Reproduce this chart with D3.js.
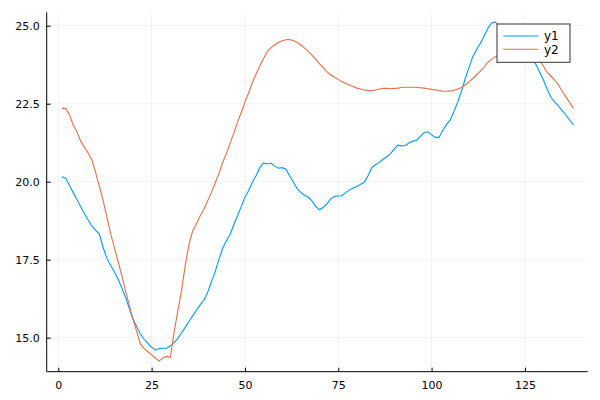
<!DOCTYPE html>
<html>
<head>
<meta charset="utf-8">
<script src="https://cdn.jsdelivr.net/npm/d3@7"></script>
<style>
  html, body { margin: 0; padding: 0; background: #fff; }
  svg { display: block; }
  text { font-family: "DejaVu Sans", sans-serif; }
</style>
</head>
<body>
<svg id="chart" width="600" height="400"></svg>
<script>
const seriesNames = ["y1", "y2"];
const y1 = [20.16,20.11,19.88,19.65,19.43,19.2,18.97,18.77,18.58,18.45,
  18.32,17.9,17.55,17.32,17.12,16.88,16.6,16.3,15.95,15.6,
  15.35,15.12,14.95,14.82,14.7,14.6,14.65,14.66,14.66,14.74,
  14.84,14.97,15.15,15.33,15.52,15.7,15.88,16.05,16.2,16.45,
  16.78,17.1,17.5,17.85,18.1,18.3,18.62,18.9,19.2,19.5,
  19.72,19.98,20.2,20.45,20.6,20.57,20.6,20.5,20.43,20.45,
  20.4,20.18,19.98,19.78,19.65,19.56,19.5,19.38,19.2,19.1,
  19.18,19.3,19.45,19.53,19.54,19.55,19.65,19.73,19.8,19.85,
  19.92,19.98,20.2,20.45,20.55,20.62,20.72,20.8,20.9,21.05,
  21.17,21.15,21.16,21.25,21.3,21.33,21.45,21.57,21.6,21.5,
  21.42,21.42,21.65,21.83,21.98,22.25,22.55,22.9,23.3,23.65,
  24.0,24.22,24.42,24.65,24.9,25.08,25.12,25.0,24.9,24.8,
  24.7,24.6,24.48,24.36,24.25,24.1,23.95,23.75,23.5,23.25,
  22.95,22.7,22.55,22.42,22.28,22.13,21.97,21.82];
const y2 = [22.35,22.35,22.15,21.82,21.6,21.3,21.1,20.92,20.7,20.3,
  19.85,19.4,18.88,18.35,17.9,17.45,17.0,16.5,16.05,15.6,
  15.2,14.8,14.65,14.55,14.45,14.35,14.25,14.35,14.4,14.37,
  15.15,15.85,16.5,17.3,17.98,18.42,18.65,18.9,19.12,19.38,
  19.65,19.95,20.25,20.6,20.9,21.22,21.55,21.9,22.22,22.55,
  22.85,23.18,23.45,23.72,23.95,24.17,24.3,24.38,24.47,24.52,
  24.55,24.56,24.52,24.46,24.38,24.28,24.18,24.05,23.92,23.78,
  23.65,23.52,23.42,23.35,23.28,23.2,23.15,23.1,23.05,23.0,
  22.97,22.94,22.92,22.92,22.94,22.97,22.99,22.99,22.98,22.99,
  23.0,23.02,23.03,23.03,23.03,23.02,23.01,23.0,22.98,22.96,
  22.95,22.92,22.9,22.9,22.91,22.93,22.97,23.02,23.1,23.2,
  23.3,23.42,23.54,23.66,23.82,23.92,24.0,24.05,24.1,24.14,
  24.16,24.17,24.17,24.15,24.12,24.07,24.0,23.93,23.88,23.7,
  23.5,23.38,23.26,23.1,22.9,22.72,22.53,22.35];
const xTicks = [0, 25, 50, 75, 100, 125];
const yTicks = [15.0, 17.5, 20.0, 22.5, 25.0];
const colors = ["#009AFA", "#E36F47"];

const svg = d3.select("#chart");
const L = 46.7, R = 587.7, T = 12.3, B = 371.7;
const x = d3.scaleLinear().domain([-3.1, 141.82]).range([L, R]);
const y = d3.scaleLinear().domain([13.91, 25.43]).range([B, T]);

// grid
svg.append("g").selectAll("line").data(xTicks).join("line")
  .attr("x1", d => x(d)).attr("x2", d => x(d)).attr("y1", T).attr("y2", B)
  .attr("stroke", "#000").attr("stroke-opacity", 0.1).attr("stroke-width", 0.5);
svg.append("g").selectAll("line").data(yTicks).join("line")
  .attr("y1", d => y(d)).attr("y2", d => y(d)).attr("x1", L).attr("x2", R)
  .attr("stroke", "#000").attr("stroke-opacity", 0.1).attr("stroke-width", 0.5);

// axes
const xAxis = d3.axisBottom(x).tickValues(xTicks).tickSizeInner(-4).tickSizeOuter(0).tickPadding(10).tickFormat(d3.format("d"));
const gx = svg.append("g").attr("transform", `translate(0,${B})`).call(xAxis);
gx.select(".domain").attr("d", `M${L},0H${R}`).attr("stroke", "#000");
gx.selectAll("text").attr("font-size", 11).attr("fill", "#000").attr("font-family", "DejaVu Sans, sans-serif");

const yAxis = d3.axisLeft(y).tickValues(yTicks).tickSizeInner(-4).tickSizeOuter(0).tickPadding(7).tickFormat(d3.format(".1f"));
const gy = svg.append("g").attr("transform", `translate(${L},0)`).call(yAxis);
gy.select(".domain").attr("d", `M0,${T}V${B}`).attr("stroke", "#000");
gy.selectAll("text").attr("font-size", 11).attr("fill", "#000").attr("font-family", "DejaVu Sans, sans-serif");

// lines
const line = d3.line().x((d, i) => x(i + 1)).y(d => y(d));
[y1, y2].forEach((s, k) => {
  svg.append("path").datum(s).attr("d", line)
    .attr("fill", "none").attr("stroke", colors[k]).attr("stroke-width", 1.1);
});

// legend
const lg = svg.append("g");
lg.append("rect").attr("x", 497).attr("y", 24).attr("width", 73).attr("height", 38.3)
  .attr("fill", "#fff").attr("stroke", "#333").attr("stroke-width", 1);
seriesNames.forEach((n, k) => {
  const yy = 36 + k * 13.3;
  lg.append("line").attr("x1", 503.3).attr("x2", 538.3).attr("y1", yy).attr("y2", yy)
    .attr("stroke", colors[k]).attr("stroke-width", 1.1);
  lg.append("text").attr("x", 544).attr("y", yy + 4.3).text(n)
    .attr("font-size", 12).attr("fill", "#000");
});
</script>
</body>
</html>
